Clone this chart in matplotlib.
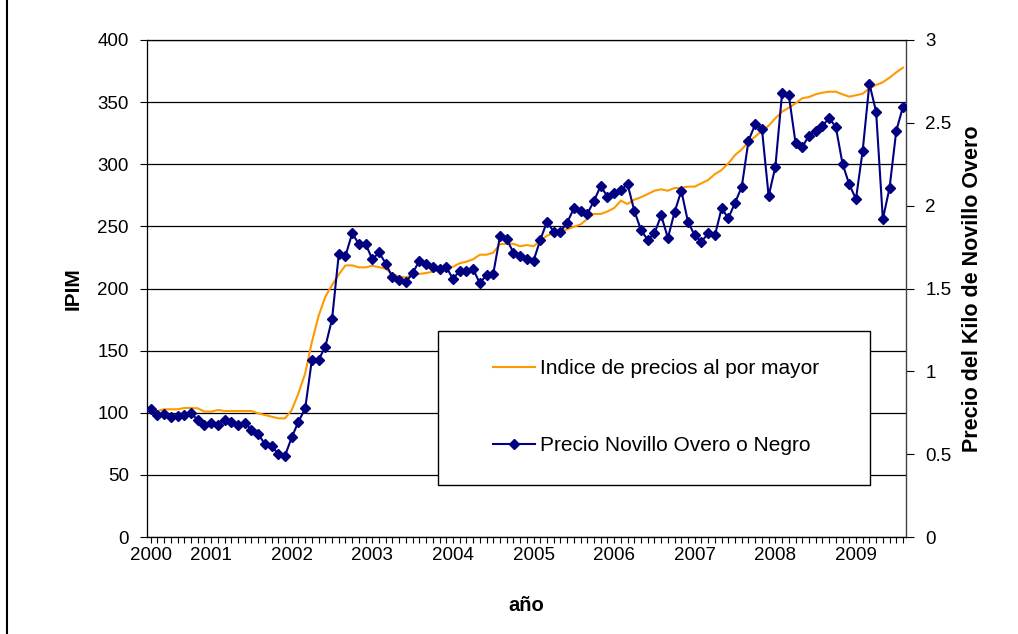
import matplotlib.pyplot as plt
from matplotlib.patches import Rectangle
import numpy as np

plt.rcParams['font.family'] = ['Liberation Sans', 'DejaVu Sans']

# monthly series, April 2000 - August 2009
ipim = [100.9, 101.4, 102.8, 102.8, 102.8, 103.8, 103.8, 103.6, 100.9, 100.9,
        102.2, 101.4, 101.4, 101.4, 101.4, 101.4, 99.5, 98.2, 96.8, 95.5,
        95.5, 102.2, 115.6, 131.7, 157.0, 178.0, 193.4, 202.8, 211.3, 218.6,
        218.6, 217.0, 217.0, 218.3, 217.1, 216.0, 211.5, 209.5, 209.0, 210.9,
        211.7, 212.5, 213.5, 214.9, 216.7, 217.5, 220.3, 221.6, 223.5, 227.2,
        227.2, 228.8, 235.7, 236.0, 236.0, 234.0, 235.0, 234.0, 238.5, 242.5,
        244.6, 245.7, 247.7, 249.7, 251.5, 256.0, 260.0, 260.0, 262.0, 264.7,
        270.7, 268.0, 271.5, 273.5, 276.0, 278.7, 279.8, 278.7, 280.9, 280.9,
        282.0, 282.0, 284.7, 287.3, 292.1, 295.4, 300.7, 307.4, 312.0, 318.1,
        322.2, 327.0, 331.0, 337.0, 342.3, 345.5, 349.0, 353.1, 354.1, 356.3,
        357.6, 358.4, 358.4, 356.3, 354.4, 355.5, 356.8, 361.1, 363.8, 366.0,
        369.7, 374.0, 377.7]

precio = [0.771, 0.736, 0.740, 0.726, 0.728, 0.738, 0.748, 0.706, 0.678, 0.690,
          0.678, 0.706, 0.696, 0.676, 0.688, 0.648, 0.622, 0.561, 0.549, 0.501,
          0.491, 0.602, 0.696, 0.776, 1.070, 1.070, 1.149, 1.315, 1.706, 1.697,
          1.833, 1.768, 1.768, 1.676, 1.718, 1.650, 1.567, 1.549, 1.539, 1.592,
          1.668, 1.650, 1.631, 1.618, 1.631, 1.557, 1.607, 1.607, 1.618, 1.531,
          1.583, 1.589, 1.815, 1.798, 1.717, 1.696, 1.678, 1.668, 1.793, 1.903,
          1.843, 1.843, 1.897, 1.984, 1.970, 1.950, 2.030, 2.119, 2.054, 2.078,
          2.095, 2.129, 1.969, 1.853, 1.793, 1.833, 1.942, 1.805, 1.962, 2.090,
          1.901, 1.821, 1.782, 1.833, 1.821, 1.984, 1.924, 2.018, 2.114, 2.392,
          2.491, 2.463, 2.058, 2.235, 2.678, 2.668, 2.380, 2.354, 2.422, 2.449,
          2.481, 2.529, 2.475, 2.253, 2.129, 2.040, 2.332, 2.736, 2.567, 1.919,
          2.107, 2.451, 2.597]

years = ['2000', '2001', '2002', '2003', '2004', '2005', '2006', '2007', '2008', '2009']
# first point is labelled 2000, then every January (series starts in April)
year_idx = [0] + [9 + 12 * k for k in range(len(years) - 1)]

right_ticks = [0, 0.5, 1, 1.5, 2, 2.5, 3]
right_labels = ['0', '0.5', '1', '1.5', '2', '2.5', '3']

x = np.arange(len(ipim))

fig = plt.figure(figsize=(10.18, 6.34), dpi=100)
fig.add_artist(plt.Line2D([7 / 1018, 7 / 1018], [0, 1], color='black', lw=1.5))

ax = fig.add_axes([147 / 1018, 97 / 634, 759 / 1018, 497 / 634])
ax.set_xlim(-0.55, len(ipim) - 0.55)
ax.set_ylim(0, 400)
ax.set_yticks(range(0, 401, 50))
ax.yaxis.grid(True, color='black', lw=0.9)
ax.set_axisbelow(True)

l1, = ax.plot(x, ipim, color='#FF9900', lw=1.5, label='Indice de precios al por mayor')

ax.set_xticks(year_idx)
ax.set_xticklabels(years)
ax.set_xticks(x, minor=True)
ax.tick_params(axis='x', which='both', direction='out', length=4, width=0.8, labelsize=13.5, pad=3)
ax.tick_params(axis='y', direction='out', length=5, width=0.8, labelsize=13.5, pad=8)

for s in ['top', 'left', 'bottom']:
    ax.spines[s].set_color('#404040')
    ax.spines[s].set_linewidth(0.9)

ax.set_xlabel('año', fontsize=14.5, fontweight='bold')
ax.xaxis.set_label_coords(0.5, -0.118)
ax.set_ylabel('IPIM', fontsize=15, fontweight='bold', va='center')
ax.yaxis.set_label_coords(-0.097, 0.5)

ax2 = ax.twinx()
ax2.set_ylim(0, 3)
ax2.set_yticks(right_ticks)
ax2.set_yticklabels(right_labels)
ax2.tick_params(axis='y', direction='out', length=6, width=0.8, labelsize=13.5, pad=8)
ax2.spines['right'].set_color('#404040')
ax2.spines['right'].set_linewidth(0.9)

l2, = ax2.plot(x, precio, color='#000080', lw=1.5, marker='D', ms=5,
               label='Precio Novillo Overo o Negro', zorder=3)

ax2.set_ylabel('Precio del Kilo de Novillo Overo', fontsize=15.5, fontweight='bold',
               rotation=90, va='center')
ax2.yaxis.set_label_coords(1.087, 0.5)

ax2.add_patch(Rectangle((0.3834, 0.1046), 0.5692, 0.3099, transform=ax2.transAxes,
                        facecolor='white', edgecolor='black', lw=1, zorder=4))
ax2.legend(handles=[l1, l2], loc='upper left', bbox_to_anchor=(0.442, 0.379),
           frameon=False, fontsize=15, borderpad=0, handlelength=2.0,
           handletextpad=0.25, labelspacing=2.8).set_zorder(5)

plt.savefig('out.png', dpi=100)
